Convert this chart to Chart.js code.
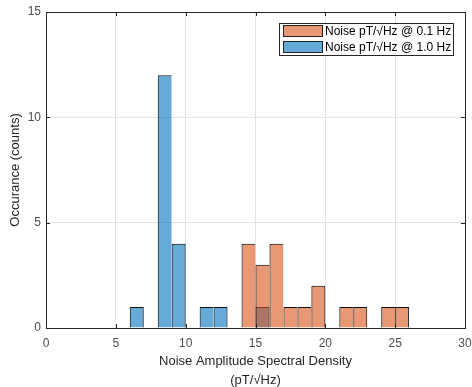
<!DOCTYPE html>
<html>
<head>
<meta charset="utf-8">
<script src="https://cdn.jsdelivr.net/npm/chart.js@4/dist/chart.umd.min.js"></script>
<style>
  html, body { margin: 0; padding: 0; background: #fff; }
  #wrap { width: 472px; height: 387px; }
</style>
</head>
<body>
<div id="wrap"><canvas id="hist"></canvas></div>
<script>
// bin centres (bin width 1) and counts
const binsLow = [14.5, 15.5, 16.5, 17.5, 18.5, 19.5, 21.5, 22.5, 24.5, 25.5];
const countsLow = [4, 3, 4, 1, 1, 2, 1, 1, 1, 1];
const binsHigh = [6.5, 8.5, 9.5, 11.5, 12.5, 15.5];
const countsHigh = [1, 12, 4, 1, 1, 1];
const seriesNames = ['Noise pT/\u221AHz @ 0.1 Hz', 'Noise pT/\u221AHz @ 1.0 Hz'];
const xTicks = [0, 5, 10, 15, 20, 25, 30];
const yTicks = [0, 5, 10, 15];

const orange = 'rgba(217, 83, 25, 0.6)';
const blue = 'rgba(0, 114, 189, 0.6)';
const axisGray = '#262626';
const font = 'Liberation Sans, Arial, sans-serif';

const toPoints = (xs, ys) => xs.map((x, i) => ({ x, y: ys[i] }));

// MATLAB-like box, inward ticks and boxed legend
const boxPlugin = {
  id: 'box',
  afterDraw(chart) {
    const { ctx, chartArea: a, scales } = chart;
    ctx.save();
    ctx.strokeStyle = axisGray;
    ctx.lineWidth = 1;
    ctx.strokeRect(Math.round(a.left) + 0.5, Math.round(a.top) + 0.5,
      Math.round(a.right - a.left), Math.round(a.bottom - a.top));
    ctx.beginPath();
    xTicks.forEach(v => {
      const px = Math.round(scales.x.getPixelForValue(v)) + 0.5;
      ctx.moveTo(px, a.bottom); ctx.lineTo(px, a.bottom - 4);
      ctx.moveTo(px, a.top); ctx.lineTo(px, a.top + 4);
    });
    yTicks.forEach(v => {
      const py = Math.round(scales.y.getPixelForValue(v)) + 0.5;
      ctx.moveTo(a.left, py); ctx.lineTo(a.left + 4, py);
      ctx.moveTo(a.right, py); ctx.lineTo(a.right - 4, py);
    });
    ctx.stroke();

    // legend
    const lx = 279, ly = 23, lw = 174, lh = 32;
    ctx.fillStyle = '#fff';
    ctx.fillRect(lx, ly, lw, lh);
    ctx.strokeStyle = axisGray;
    ctx.strokeRect(lx + 0.5, ly + 0.5, lw, lh);
    const colors = [orange, blue];
    ctx.font = '12px ' + font;
    ctx.textBaseline = 'middle';
    seriesNames.forEach((name, i) => {
      const y = ly + 2 + i * 16;
      ctx.fillStyle = colors[i];
      ctx.fillRect(lx + 4, y, 40, 12);
      ctx.strokeStyle = '#222';
      ctx.strokeRect(lx + 4.5, y + 0.5, 39, 11);
      ctx.fillStyle = '#000';
      ctx.fillText(name, lx + 46, y + 7);
    });
    ctx.restore();
  }
};

// adjacent bins share one edge line, as in a histogram
const edgeWidths = (bins) => (c) => {
  const x = bins[c.dataIndex];
  const touching = bins.includes(x + 1);
  return { left: 1, top: 1, right: touching ? 0 : 1, bottom: 0 };
};

const barStyle = {
  borderColor: '#111',
  borderSkipped: false,
  inflateAmount: 0,
  barPercentage: 1,
  categoryPercentage: 1,
  grouped: false
};

new Chart(document.getElementById('hist'), {
  type: 'bar',
  data: {
    datasets: [
      Object.assign({
        label: seriesNames[0],
        data: toPoints(binsLow, countsLow),
        backgroundColor: orange,
        borderWidth: edgeWidths(binsLow),
        order: 0
      }, barStyle),
      Object.assign({
        label: seriesNames[1],
        data: toPoints(binsHigh, countsHigh),
        backgroundColor: blue,
        borderWidth: edgeWidths(binsHigh),
        order: 1
      }, barStyle)
    ]
  },
  options: {
    responsive: true,
    maintainAspectRatio: false,
    animation: false,
    layout: { padding: { top: 12, right: 7, left: 0, bottom: 0 } },
    plugins: {
      legend: { display: false },
      tooltip: { enabled: false }
    },
    scales: {
      x: {
        type: 'linear',
        offset: false,
        min: 0,
        max: 30,
        afterBuildTicks: s => { s.ticks = xTicks.map(v => ({ value: v })); },
        afterFit: s => { s.height = 59; s.paddingLeft = 0; s.paddingRight = 0; },
        ticks: { color: '#4d4d4d', font: { family: font, size: 12 }, padding: 8, maxRotation: 0 },
        grid: { color: '#e3e3e3', tickLength: 0, drawTicks: false, offset: false },
        border: { display: false },
        title: {
          display: true,
          text: ['Noise Amplitude Spectral Density', '(pT/\u221AHz)'],
          color: '#262626',
          font: { family: font, size: 13, lineHeight: 1.45 },
          padding: { top: 4, bottom: -3 }
        }
      },
      y: {
        min: 0,
        max: 15,
        afterBuildTicks: s => { s.ticks = yTicks.map(v => ({ value: v })); },
        afterFit: s => { s.width = 46; s.paddingTop = 0; s.paddingBottom = 0; },
        ticks: { color: '#4d4d4d', font: { family: font, size: 12 }, padding: 5 },
        grid: { color: '#e3e3e3', tickLength: 0, drawTicks: false },
        border: { display: false },
        title: {
          display: true,
          text: 'Occurance (counts)',
          color: '#262626',
          font: { family: font, size: 13 },
          padding: { top: 8, bottom: 0 }
        }
      }
    }
  },
  plugins: [boxPlugin]
});
</script>
</body>
</html>
